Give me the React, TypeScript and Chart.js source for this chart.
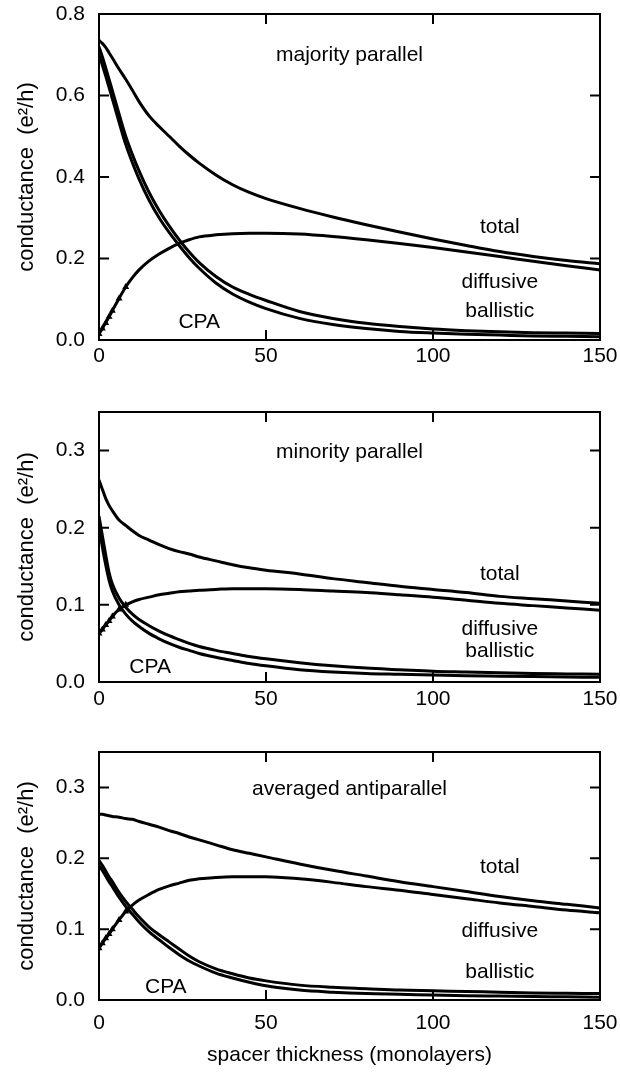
import React, { useEffect, useRef } from "react";
import { Chart, registerables } from "chart.js";

Chart.register(...registerables);

// spacer thickness (monolayers) at which values are read
const thickness = [0, 1, 2, 3, 4, 6, 8, 10, 12, 15, 18, 21, 24, 27, 30, 35, 40, 45, 50, 60, 70, 80, 90, 100, 110, 120, 130, 140, 150];

const xTicks = [0, 50, 100, 150];
const yTicksMajority = [0, 0.2, 0.4, 0.6, 0.8];
const yTicksOther = [0, 0.1, 0.2, 0.3];

const seriesNames = ["total", "diffusive", "ballistic", "CPA"];

// majority parallel
const majTotal = [0.735, 0.728, 0.718, 0.705, 0.692, 0.665, 0.64, 0.613, 0.585, 0.55, 0.524, 0.5, 0.476, 0.454, 0.434, 0.405, 0.381, 0.362, 0.347, 0.323, 0.302, 0.283, 0.265, 0.248, 0.232, 0.217, 0.205, 0.195, 0.187];
const majDiffusive = [0.015, 0.028, 0.042, 0.057, 0.072, 0.102, 0.13, 0.153, 0.172, 0.194, 0.211, 0.225, 0.237, 0.246, 0.253, 0.258, 0.261, 0.262, 0.262, 0.26, 0.254, 0.246, 0.237, 0.227, 0.216, 0.205, 0.193, 0.182, 0.172];
const majBallistic = [0.72, 0.695, 0.668, 0.64, 0.612, 0.555, 0.5, 0.455, 0.415, 0.362, 0.318, 0.28, 0.246, 0.216, 0.19, 0.156, 0.13, 0.112, 0.097, 0.07, 0.053, 0.041, 0.033, 0.027, 0.023, 0.02, 0.018, 0.017, 0.016];
const majCPA = [0.7, 0.675, 0.648, 0.62, 0.592, 0.535, 0.48, 0.435, 0.395, 0.343, 0.3, 0.264, 0.232, 0.202, 0.176, 0.14, 0.113, 0.093, 0.077, 0.053, 0.038, 0.028, 0.021, 0.017, 0.014, 0.012, 0.01, 0.009, 0.008];

// minority parallel
const minTotal = [0.262, 0.25, 0.238, 0.229, 0.222, 0.21, 0.203, 0.196, 0.19, 0.184, 0.178, 0.173, 0.169, 0.166, 0.162, 0.157, 0.152, 0.148, 0.145, 0.14, 0.134, 0.129, 0.124, 0.12, 0.116, 0.111, 0.108, 0.105, 0.102];
const minDiffusive = [0.063, 0.068, 0.074, 0.079, 0.085, 0.094, 0.1, 0.104, 0.107, 0.11, 0.113, 0.115, 0.117, 0.118, 0.119, 0.12, 0.121, 0.121, 0.121, 0.12, 0.118, 0.116, 0.113, 0.11, 0.106, 0.102, 0.099, 0.096, 0.093];
const minBallistic = [0.215, 0.19, 0.165, 0.142, 0.127, 0.109, 0.097, 0.088, 0.081, 0.073, 0.066, 0.06, 0.055, 0.05, 0.046, 0.041, 0.037, 0.033, 0.03, 0.025, 0.021, 0.018, 0.016, 0.014, 0.013, 0.012, 0.011, 0.0105, 0.01];
const minCPA = [0.2, 0.175, 0.152, 0.132, 0.118, 0.1, 0.088, 0.079, 0.072, 0.063, 0.056, 0.05, 0.045, 0.041, 0.037, 0.032, 0.028, 0.024, 0.021, 0.016, 0.013, 0.011, 0.01, 0.009, 0.008, 0.0075, 0.007, 0.0065, 0.006];

// averaged antiparallel
const apTotal = [0.262, 0.262, 0.261, 0.26, 0.259, 0.258, 0.256, 0.255, 0.252, 0.248, 0.244, 0.239, 0.235, 0.23, 0.226, 0.219, 0.212, 0.207, 0.202, 0.192, 0.183, 0.175, 0.167, 0.16, 0.153, 0.146, 0.14, 0.135, 0.13];
const apDiffusive = [0.073, 0.08, 0.087, 0.093, 0.1, 0.113, 0.125, 0.134, 0.141, 0.149, 0.156, 0.161, 0.165, 0.169, 0.171, 0.173, 0.174, 0.174, 0.174, 0.171, 0.166, 0.16, 0.155, 0.149, 0.143, 0.137, 0.132, 0.127, 0.123];
const apBallistic = [0.197, 0.19, 0.182, 0.174, 0.167, 0.152, 0.139, 0.128, 0.117, 0.103, 0.092, 0.082, 0.072, 0.062, 0.054, 0.044, 0.037, 0.031, 0.027, 0.021, 0.018, 0.016, 0.014, 0.013, 0.012, 0.011, 0.01, 0.0095, 0.009];
const apCPA = [0.19, 0.183, 0.175, 0.167, 0.16, 0.145, 0.132, 0.121, 0.11, 0.096, 0.085, 0.074, 0.064, 0.055, 0.048, 0.038, 0.031, 0.025, 0.02, 0.014, 0.011, 0.009, 0.008, 0.007, 0.006, 0.0055, 0.005, 0.0045, 0.004];

const FONT = "'Liberation Sans', Arial, Helvetica, sans-serif";
const FS = 21;

type Note = { text: string; x: number; y: number };
type Panel = {
  series: number[][];
  yMax: number;
  yTicks: number[];
  notes: Note[];
  top: number;
  height: number;
  padTop: number;
  xAxisH: number;
  xPad: number;
  xTitle: boolean;
};

const panels: Panel[] = [
  {
    series: [majTotal, majDiffusive, majBallistic, majCPA],
    yMax: 0.8,
    yTicks: yTicksMajority,
    notes: [
      { text: "majority parallel", x: 75, y: 0.685 },
      { text: "total", x: 120, y: 0.263 },
      { text: "diffusive", x: 120, y: 0.128 },
      { text: "ballistic", x: 120, y: 0.056 },
      { text: "CPA", x: 30, y: 0.029 },
    ],
    top: 0,
    height: 372,
    padTop: 14,
    xAxisH: 32,
    xPad: 4,
    xTitle: false,
  },
  {
    series: [minTotal, minDiffusive, minBallistic, minCPA],
    yMax: 0.35,
    yTicks: yTicksOther,
    notes: [
      { text: "minority parallel", x: 75, y: 0.291 },
      { text: "total", x: 120, y: 0.1316 },
      { text: "diffusive", x: 120, y: 0.061 },
      { text: "ballistic", x: 120, y: 0.033 },
      { text: "CPA", x: 15.3, y: 0.0117 },
    ],
    top: 372,
    height: 340,
    padTop: 40,
    xAxisH: 30,
    xPad: 5,
    xTitle: false,
  },
  {
    series: [apTotal, apDiffusive, apBallistic, apCPA],
    yMax: 0.35,
    yTicks: yTicksOther,
    notes: [
      { text: "averaged antiparallel", x: 75, y: 0.289 },
      { text: "total", x: 120, y: 0.179 },
      { text: "diffusive", x: 120, y: 0.0895 },
      { text: "ballistic", x: 120, y: 0.0307 },
      { text: "CPA", x: 20, y: 0.0095 },
    ],
    top: 712,
    height: 362,
    padTop: 40,
    xAxisH: 74,
    xPad: 11,
    xTitle: true,
  },
];

function PanelChart({ panel }: { panel: Panel }) {
  const ref = useRef<HTMLCanvasElement | null>(null);
  useEffect(() => {
    if (!ref.current) return;
    const framePlugin = {
      id: "frame",
      afterDatasetsDraw(chart: any) {
        const { ctx, chartArea: a, scales } = chart;
        const xs = scales.x;
        const ys = scales.y;
        ctx.save();
        ctx.strokeStyle = "#000";
        ctx.lineWidth = 2;
        ctx.strokeRect(a.left, a.top, a.right - a.left, a.bottom - a.top);
        const L = 10;
        ctx.beginPath();
        for (const v of xTicks) {
          const px = xs.getPixelForValue(v);
          if (px <= a.left + 1 || px >= a.right - 1) continue;
          ctx.moveTo(px, a.bottom);
          ctx.lineTo(px, a.bottom - L);
          ctx.moveTo(px, a.top);
          ctx.lineTo(px, a.top + L);
        }
        for (const v of panel.yTicks) {
          const py = ys.getPixelForValue(v);
          if (py <= a.top + 1 || py >= a.bottom - 1) continue;
          ctx.moveTo(a.left, py);
          ctx.lineTo(a.left + L, py);
          ctx.moveTo(a.right, py);
          ctx.lineTo(a.right - L, py);
        }
        ctx.stroke();
        ctx.fillStyle = "#000";
        ctx.font = `${FS}px ${FONT}`;
        ctx.textAlign = "center";
        ctx.textBaseline = "alphabetic";
        for (const n of panel.notes) {
          ctx.fillText(n.text, xs.getPixelForValue(n.x), ys.getPixelForValue(n.y));
        }
        ctx.restore();
      },
    };

    const chart = new Chart(ref.current, {
      type: "line",
      data: {
        datasets: panel.series.map((vals, i) => ({
          label: seriesNames[i],
          data: thickness.map((x, j) => ({ x, y: vals[j] })),
          borderColor: "#000",
          backgroundColor: "#000",
          borderWidth: 3,
          pointStyle: "triangle",
          pointRadius: i === 1 ? (c: any) => (thickness[c.dataIndex] <= 8 ? 4 : 0) : 0,
          pointBorderWidth: 0,
          pointBackgroundColor: "#000",
          cubicInterpolationMode: "monotone",
          fill: false,
        })),
      },
      options: {
        animation: false,
        responsive: false,
        devicePixelRatio: 1,
        layout: { padding: { top: panel.padTop, right: 20, left: 0, bottom: 0 } },
        plugins: { legend: { display: false }, tooltip: { enabled: false } },
        scales: {
          x: {
            type: "linear",
            min: 0,
            max: 150,
            afterBuildTicks: (s: any) => {
              s.ticks = xTicks.map((v) => ({ value: v }));
            },
            afterFit: (s: any) => {
              s.height = panel.xAxisH;
              s.paddingLeft = 0;
              s.paddingRight = 0;
            },
            grid: { display: false, drawTicks: false },
            border: { display: false },
            ticks: {
              color: "#000",
              font: { family: FONT, size: FS },
              padding: panel.xPad,
              maxRotation: 0,
              autoSkip: false,
            },
            title: {
              display: panel.xTitle,
              text: "spacer thickness (monolayers)",
              color: "#000",
              font: { family: FONT, size: FS },
              padding: { top: 0, bottom: 6 },
            },
          },
          y: {
            type: "linear",
            min: 0,
            max: panel.yMax,
            afterBuildTicks: (s: any) => {
              s.ticks = panel.yTicks.map((v) => ({ value: v }));
            },
            afterFit: (s: any) => {
              s.width = 99;
              s.paddingTop = 0;
              s.paddingBottom = 0;
            },
            grid: { display: false, drawTicks: false },
            border: { display: false },
            ticks: {
              color: "#000",
              font: { family: FONT, size: FS },
              padding: 14,
              callback: (v: any) => Number(v).toFixed(1),
            },
            title: {
              display: true,
              text: "conductance  (e²/h)",
              color: "#000",
              font: { family: FONT, size: 22 },
              padding: { top: 14, bottom: 0 },
            },
          },
        },
      },
      plugins: [framePlugin],
    } as any);
    return () => chart.destroy();
  }, [panel]);
  return (
    <canvas
      ref={ref}
      width={620}
      height={panel.height}
      style={{ position: "absolute", left: 0, top: panel.top, width: 620, height: panel.height, display: "block" }}
    />
  );
}

export default function App() {
  return (
    <div style={{ position: "absolute", left: 0, top: 0, width: 620, height: 1074, background: "#fff" }}>
      {panels.map((p, i) => (
        <PanelChart key={i} panel={p} />
      ))}
    </div>
  );
}
